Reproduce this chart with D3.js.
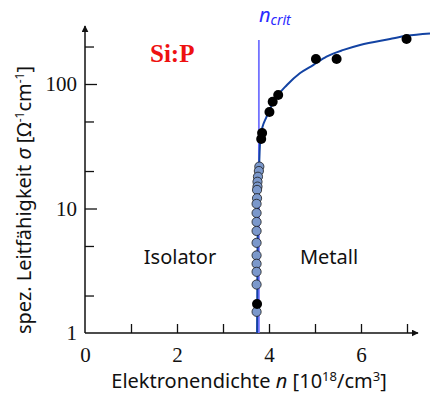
<!DOCTYPE html>
<meta charset="utf-8">
<style>
body { margin: 0; background: #fff; }
svg { display: block; }
.lab { font-family: "Noto Sans", sans-serif; fill: #111; }
.tickl { font-family: "Liberation Serif", serif; font-size: 21px; fill: #111; }
</style>
<body>
<script src="https://cdnjs.cloudflare.com/ajax/libs/d3/7.8.5/d3.min.js"></script>
<script>

var width = 432,
    height = 394;

// black points (metallic side), n in 10^18/cm^3, sigma in 1/(Ohm cm)
var metalN = [3.74, 3.83, 3.85, 4.01, 4.08, 4.20, 5.02, 5.47, 6.99];
var metalS = [1.71, 36.2, 40.4, 59.6, 72.1, 81.6, 159, 159, 230];

// grey-blue points stacked at the transition
var insN = [3.79, 3.78, 3.76, 3.75, 3.75, 3.74, 3.74, 3.73, 3.73, 3.73, 3.73, 3.73, 3.73, 3.73, 3.73, 3.73, 3.73];
var insS = [21.7, 20.0, 18.0, 16.4, 15.0, 14.1, 12.1, 10.9, 9.2, 7.8, 6.6, 5.3, 4.2, 3.6, 3.1, 2.45, 1.48];

// fitted curve
var fitN = [3.74, 3.75, 3.77, 3.79, 3.82, 3.95, 4.17, 4.39, 4.67, 4.96, 5.25, 5.62, 5.98, 6.63, 6.99, 7.50];
var fitS = [1, 4.6, 11.7, 24.5, 38.9, 55, 79.1, 98.2, 122, 142, 166, 188, 206, 230, 244, 255];

var nCrit = 3.78;
var xTicks = [0, 1, 2, 3, 4, 5, 6, 7];
var xLabels = [0, 2, 4, 6];
var yTicks = [1, 2, 5, 10, 20, 50, 100, 200];
var yLabels = [1, 10, 100];

var x = d3.scaleLinear().domain([0, 7]).range([85, 407]);
var y = d3.scaleLog().domain([1, 100]).range([333, 84]);

var svg = d3.select("body").append("svg")
    .attr("width", width)
    .attr("height", height);

svg.append("defs").append("marker")
    .attr("id", "arr")
    .attr("viewBox", "0 0 10 10")
    .attr("refX", 9).attr("refY", 5)
    .attr("markerWidth", 7).attr("markerHeight", 7)
    .attr("markerUnits", "userSpaceOnUse")
    .attr("orient", "auto")
  .append("path")
    .attr("d", "M0,0L10,5L0,10z")
    .attr("fill", "#111");

// axes
var xAxis = d3.axisBottom(x)
    .tickValues(xTicks)
    .tickSizeInner(-9)
    .tickSizeOuter(0)
    .tickPadding(14)
    .tickFormat(function(d){ return xLabels.indexOf(d) >= 0 ? d : ""; });

var gx = svg.append("g").attr("transform", "translate(0," + y(1) + ")").call(xAxis);
gx.select(".domain").remove();
gx.selectAll("line").attr("stroke", "#111").attr("stroke-width", 1.3);
gx.selectAll(".tick").filter(function(d){ return d === 0; }).select("line").remove();
gx.selectAll("text").attr("class", "tickl").attr("font-family", null).attr("font-size", null);

var yAxis = d3.axisLeft(y)
    .tickValues(yTicks)
    .tickSizeInner(-12)
    .tickSizeOuter(0)
    .tickPadding(8)
    .tickFormat(function(d){ return yLabels.indexOf(d) >= 0 ? d : ""; });

var gy = svg.append("g").attr("transform", "translate(" + x(0) + ",0)").call(yAxis);
gy.select(".domain").remove();
gy.selectAll("line")
    .attr("stroke", "#111").attr("stroke-width", 1.3)
    .attr("x2", function(d){ return yLabels.indexOf(d) >= 0 ? 12 : 9; });
gy.selectAll(".tick").filter(function(d){ return d === 1; }).select("line").remove();
gy.selectAll("text").attr("class", "tickl").attr("font-family", null).attr("font-size", null);

svg.append("line")
    .attr("x1", x(0)).attr("y1", y(1))
    .attr("x2", 418).attr("y2", y(1))
    .attr("stroke", "#111").attr("stroke-width", 1.5)
    .attr("marker-end", "url(#arr)");
svg.append("line")
    .attr("x1", x(0)).attr("y1", y(1))
    .attr("x2", x(0)).attr("y2", 26)
    .attr("stroke", "#111").attr("stroke-width", 1.5)
    .attr("marker-end", "url(#arr)");

// critical density line
svg.append("line")
    .attr("x1", x(nCrit)).attr("x2", x(nCrit))
    .attr("y1", 40).attr("y2", y(1))
    .attr("stroke", "#7272ff").attr("stroke-width", 1.8);

// fit curve
var fit = fitN.map(function(d, i){ return [x(d), y(fitS[i])]; });
svg.append("path")
    .attr("d", d3.line().curve(d3.curveMonotoneX)(fit))
    .attr("fill", "none")
    .attr("stroke", "#1343a3")
    .attr("stroke-width", 2);

svg.selectAll(".ins")
    .data(insN)
  .enter().append("circle")
    .attr("cx", function(d){ return x(d); })
    .attr("cy", function(d, i){ return y(insS[i]); })
    .attr("r", 4.6)
    .attr("fill", "#7b98cb")
    .attr("stroke", "#1a1a1a")
    .attr("stroke-width", 0.8);

svg.selectAll(".met")
    .data(metalN)
  .enter().append("circle")
    .attr("cx", function(d){ return x(d); })
    .attr("cy", function(d, i){ return y(metalS[i]); })
    .attr("r", 5)
    .attr("fill", "#000");

// labels
svg.append("text")
    .attr("x", 150).attr("y", 62)
    .attr("font-family", "Liberation Serif, serif")
    .attr("font-weight", "bold")
    .attr("font-size", 25)
    .attr("fill", "#ee1111")
    .text("Si:P");

var nc = svg.append("text")
    .attr("x", 259).attr("y", 22)
    .attr("font-family", "Noto Sans, sans-serif")
    .attr("font-style", "italic")
    .attr("fill", "#2b2bff")
    .attr("font-size", 20);
nc.append("tspan").text("n");
nc.append("tspan").attr("font-size", 14).attr("dy", 3).text("crit");

svg.append("text").attr("class", "lab")
    .attr("x", 180).attr("y", 264)
    .attr("text-anchor", "middle")
    .attr("font-size", 20)
    .text("Isolator");
svg.append("text").attr("class", "lab")
    .attr("x", 329).attr("y", 264)
    .attr("text-anchor", "middle")
    .attr("font-size", 20)
    .text("Metall");

var xl = svg.append("text").attr("class", "lab")
    .attr("x", 249).attr("y", 388)
    .attr("text-anchor", "middle")
    .attr("font-size", 20);
xl.append("tspan").text("Elektronendichte ");
xl.append("tspan").attr("font-style", "italic").text("n");
xl.append("tspan").text(" [10");
xl.append("tspan").attr("font-size", 13).attr("dy", -7).text("18");
xl.append("tspan").attr("dy", 7).text("/cm");
xl.append("tspan").attr("font-size", 13).attr("dy", -7).text("3");
xl.append("tspan").attr("dy", 7).text("]");

var yl = svg.append("text").attr("class", "lab")
    .attr("transform", "translate(31,200) rotate(-90)")
    .attr("text-anchor", "middle")
    .attr("font-size", 20);
yl.append("tspan").text("spez. Leitfähigkeit ");
yl.append("tspan").attr("font-style", "italic").text("σ");
yl.append("tspan").text(" [Ω");
yl.append("tspan").attr("font-size", 12).attr("dy", -7).text("-1");
yl.append("tspan").attr("dy", 7).text("cm");
yl.append("tspan").attr("font-size", 12).attr("dy", -7).text("-1");
yl.append("tspan").attr("dy", 7).text("]");

</script>
